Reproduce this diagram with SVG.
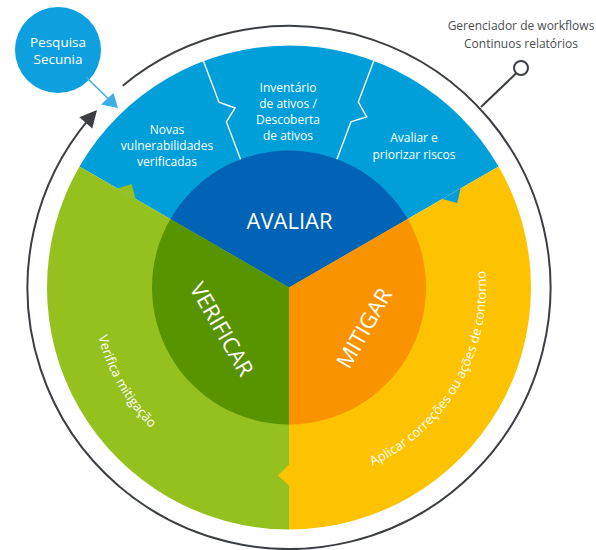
<svg xmlns="http://www.w3.org/2000/svg" width="596" height="550" viewBox="0 0 596 550">
<style>
text{font-family:"Open Sans","Noto Sans","Liberation Sans",sans-serif;}
.w{fill:#fff;font-size:12px;text-anchor:middle}
.big{fill:#fff;font-size:22px;text-anchor:middle}
.curve{fill:#fff;font-size:13px}
.g{fill:#4a4d52;font-size:12px;text-anchor:middle}
.zig{fill:none;stroke:#fff;stroke-width:1.4;stroke-linejoin:miter}
.cyc{fill:none;stroke:#3b3f44;stroke-width:2}
.blue{fill:#009fda}.dblue{fill:#0063b5}.green{fill:#95c11f}.dgreen{fill:#589300}.yellow{fill:#fdc300}.orange{fill:#fa9300}
</style>
<defs>
<path id="arcV" d="M92,287.5 A197,197 0 0 0 190.5,458.1"/>
<path id="arcM" d="M323.2,481.5 A197,197 0 0 0 474.1,220.1"/>
</defs>
<rect width="596" height="550" fill="#fff"/>
<g id="ring">
<path class="blue" d="M289,287.5 L79.42,166.5 A242,242 0 0 1 498.58,166.5 Z"/>
<path class="yellow" d="M289,287.5 L498.58,166.5 A242,242 0 0 1 289,529.5 Z"/>
<path class="green" d="M289,287.5 L289,529.5 A242,242 0 0 1 79.42,166.5 Z"/>
<polygon class="green" points="177,0 198,0 188,11" transform="translate(289 287.5) rotate(210)"/>
<polygon class="blue" points="177,0 198,0 188,11" transform="translate(289 287.5) rotate(330)"/>
<polygon class="yellow" points="177,0 198,0 188,11" transform="translate(289 287.5) rotate(90)"/>
<polyline class="zig" points="243,0 198,0 187,13 177,0 136,0" transform="translate(289 287.5) rotate(249.3)"/>
<polyline class="zig" points="243,0 198,0 187,13 177,0 136,0" transform="translate(289 287.5) rotate(290.5)"/>
</g>
<g id="seg-novas">
<text class="w" x="167" y="133.5">Novas</text>
<text class="w" x="167" y="150">vulnerabilidades</text>
<text class="w" x="167" y="166">verificadas</text>
</g>
<g id="seg-inventario">
<text class="w" x="288" y="91.5">Inventário</text>
<text class="w" x="288" y="107.5">de ativos /</text>
<text class="w" x="288" y="124">Descoberta</text>
<text class="w" x="288" y="140">de ativos</text>
</g>
<g id="seg-avaliar">
<text class="w" x="414" y="142">Avaliar e</text>
<text class="w" x="414" y="158.5">priorizar riscos</text>
</g>
<g id="seg-verifica">
<text class="curve"><textPath href="#arcV" startOffset="50%" text-anchor="middle">Verifica mitigação</textPath></text>
</g>
<g id="seg-aplicar">
<text class="curve"><textPath href="#arcM" startOffset="50%" text-anchor="middle">Aplicar correções ou ações de contorno</textPath></text>
</g>
<g id="node-avaliar">
<path class="dblue" d="M289,287.5 L170.36,219 A137,137 0 0 1 407.64,219 Z"/>
<text class="big" x="289.5" y="229">AVALIAR</text>
</g>
<g id="node-mitigar">
<path class="orange" d="M289,287.5 L407.64,219 A137,137 0 0 1 289,424.5 Z"/>
<text class="big" transform="translate(364 328) rotate(-60)" y="8">MITIGAR</text>
</g>
<g id="node-verificar">
<path class="dgreen" d="M289,287.5 L289,424.5 A137,137 0 0 1 170.36,219 Z"/>
<text class="big" transform="translate(222 329) rotate(60)" y="8">VERIFICAR</text>
</g>
<g id="node-secunia">
<circle cx="58" cy="50" r="43" fill="#0ea0de"/>
<text x="58" y="47" fill="#fff" font-size="13.5" text-anchor="middle">Pesquisa</text>
<text x="58" y="64" fill="#fff" font-size="13.5" text-anchor="middle">Secunia</text>
</g>
<g id="node-workflows">
<text class="g" x="521" y="30">Gerenciador de workflows</text>
<text class="g" x="521" y="47.5">Continuos relatórios</text>
</g>
<g id="connectors">
<path class="cyc" d="M122.7,85.7 A261.5,261.5 0 1 1 88.7,119.4"/>
<polygon points="97,110 79.3,117.2 92.3,128.6" fill="#3b3f44"/>
<line x1="86" y1="77" x2="109" y2="99.5" stroke="#3eaee6" stroke-width="1.6"/>
<polygon points="118,108 101,104.5 113.5,93" fill="#3eaee6"/>
<line x1="481" y1="107" x2="516" y2="73.5" stroke="#3b3f44" stroke-width="2"/>
<circle cx="521" cy="68" r="7" fill="#fff" stroke="#3b3f44" stroke-width="2"/>
</g>
</svg>
